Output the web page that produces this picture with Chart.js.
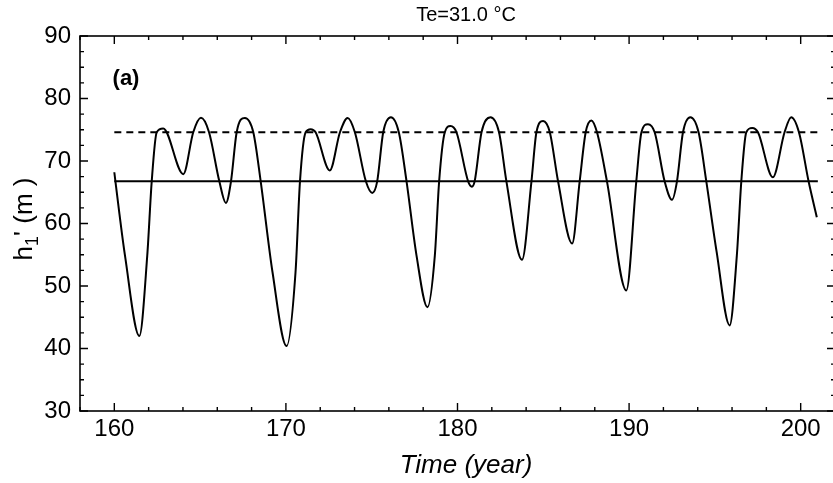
<!DOCTYPE html>
<html>
<head>
<meta charset="utf-8">
<script src="https://cdn.jsdelivr.net/npm/chart.js@4/dist/chart.umd.min.js"></script>
<style>
  html, body { margin: 0; padding: 0; background: #fff; overflow: hidden; }
  #wrap { width: 833px; height: 483px; overflow: hidden; position: relative; }
  canvas { display: block; }
</style>
</head>
<body>
<div id="wrap"><canvas id="c" width="840" height="483"></canvas></div>
<script>
// ---- data ----
const years = [160.00,160.30,160.62,161.46,161.92,162.18,162.47,162.85,164.02,164.60,165.05,165.52,166.12,166.50,166.80,167.13,167.61,168.10,168.53,169.22,170.04,170.56,170.82,171.15,171.44,171.73,172.56,173.15,173.60,174.02,174.66,175.03,175.32,175.67,176.12,176.58,177.03,177.61,178.25,178.68,178.93,179.26,179.59,179.94,180.62,180.84,181.00,181.40,181.92,182.42,182.85,183.76,184.31,184.60,184.99,185.38,185.86,186.68,187.12,187.47,187.80,188.13,188.71,189.84,190.42,190.72,191.10,191.49,192.07,192.50,192.79,193.14,193.57,194.05,194.50,195.10,195.86,196.28,196.54,196.83,197.18,197.51,198.38,199.06,199.45,199.90,200.46,200.94];
const h1 = [68.2,61.5,54.9,42.0,54.9,66.75,74.6,75.2,67.9,74.6,76.9,74.6,66.75,63.3,66.75,74.6,76.9,74.6,66.75,52.2,40.4,52.2,66.75,74.6,75.1,74.6,68.5,74.6,76.9,74.6,66.75,64.9,66.75,74.6,77.0,74.6,66.75,54.9,46.6,54.9,66.75,74.6,75.6,74.6,66.75,65.9,66.75,74.6,77.0,74.6,66.75,54.2,66.75,74.6,76.4,74.6,66.75,56.8,66.75,74.6,76.5,74.6,66.75,49.3,66.75,74.6,75.9,74.6,66.75,63.8,66.75,74.6,77.0,74.6,66.75,55.5,43.7,54.9,66.75,74.6,75.3,74.6,67.4,74.6,77.0,74.6,66.75,61.0];
const lineSpan = [160, 201];       // extent of the two horizontal reference lines
const meanLevel = 66.75;           // solid line
const upperLevel = 74.6;           // dashed line
const xRange = [158, 202];
const yRange = [30, 90];
const xMajorTicks = [160, 170, 180, 190, 200];
const yMajorTicks = [30, 40, 50, 60, 70, 80, 90];
const xMinorStep = 2;
const yMinorStep = 2.5;
const titleText = 'Te=31.0 °C';
const panelLabel = '(a)';
const xAxisTitle = 'Time (year)';

const FONT = '"Liberation Sans Narrow", "Arial Narrow", "Liberation Sans", Arial, sans-serif';

const curve = years.map((x, i) => ({ x: x, y: h1[i] }));
const meanLine = lineSpan.map(x => ({ x: x, y: meanLevel }));
const upperLine = lineSpan.map(x => ({ x: x, y: upperLevel }));

const frameTicks = {
  id: 'frameTicks',
  afterDraw(chart) {
    const ctx = chart.ctx;
    const xs = chart.scales.x, ys = chart.scales.y;
    const L = xs.getPixelForValue(xRange[0]), R = xs.getPixelForValue(xRange[1]);
    const T = ys.getPixelForValue(yRange[1]), B = ys.getPixelForValue(yRange[0]);
    ctx.save();
    ctx.strokeStyle = '#000';
    ctx.lineWidth = 1.6;
    ctx.strokeRect(L, T, R - L, B - T);
    ctx.lineWidth = 1.4;
    ctx.beginPath();
    for (let v = xRange[0]; v <= xRange[1] + 1e-9; v += xMinorStep) {
      const px = xs.getPixelForValue(v);
      const len = xMajorTicks.includes(Math.round(v)) && Math.abs(v - Math.round(v)) < 1e-6 ? 8 : 4;
      ctx.moveTo(px, B); ctx.lineTo(px, B - len);
      ctx.moveTo(px, T); ctx.lineTo(px, T + len);
    }
    for (let v = yRange[0]; v <= yRange[1] + 1e-9; v += yMinorStep) {
      const py = ys.getPixelForValue(v);
      const len = yMajorTicks.includes(v) ? 8 : 4;
      ctx.moveTo(L, py); ctx.lineTo(L + len, py);
      ctx.moveTo(R, py); ctx.lineTo(R - len, py);
    }
    ctx.stroke();

    // texts
    ctx.fillStyle = '#000';
    ctx.textAlign = 'center';
    ctx.textBaseline = 'middle';
    ctx.font = '20px ' + FONT;
    ctx.fillText(titleText, 466, 15);
    ctx.font = 'bold 22px ' + FONT;
    ctx.fillText(panelLabel, 126, 79);
    ctx.font = 'italic 26px ' + FONT;
    ctx.fillText(xAxisTitle, 466, 466);

    // y-axis title with subscript
    ctx.translate(23, 219);
    ctx.rotate(-Math.PI / 2);
    ctx.textAlign = 'left';
    ctx.textBaseline = 'alphabetic';
    const big = '26px ' + FONT, small = '18px ' + FONT;
    ctx.font = big;  const wH = ctx.measureText('h').width;
    ctx.font = small; const w1 = ctx.measureText('1').width;
    ctx.font = big;  const wRest = ctx.measureText("' (m )").width;
    const total = wH + w1 + wRest;
    let x0 = -total / 2;
    const base = 9;
    ctx.font = big; ctx.fillText('h', x0, base); x0 += wH;
    ctx.font = small; ctx.fillText('1', x0, base + 6); x0 += w1;
    ctx.font = big; ctx.fillText("' (m )", x0, base);
    ctx.restore();
  }
};

new Chart(document.getElementById('c'), {
  type: 'line',
  data: {
    datasets: [
      { label: 'h1', data: curve, borderColor: '#000', borderWidth: 2, pointRadius: 0, cubicInterpolationMode: 'monotone', fill: false },
      { label: 'mean', data: meanLine, borderColor: '#000', borderWidth: 2, pointRadius: 0, fill: false },
      { label: 'upper', data: upperLine, borderColor: '#000', borderWidth: 2, borderDash: [7, 5], pointRadius: 0, fill: false }
    ]
  },
  options: {
    responsive: false,
    animation: false,
    devicePixelRatio: 1,
    layout: { padding: { top: 36, right: 5, left: 0, bottom: 0 } },
    plugins: { legend: { display: false }, tooltip: { enabled: false }, title: { display: false } },
    scales: {
      x: {
        type: 'linear', min: xRange[0], max: xRange[1],
        afterFit(s) { s.height = 72; },
        afterBuildTicks(s) { s.ticks = xMajorTicks.map(v => ({ value: v })); },
        grid: { display: false, drawTicks: false },
        border: { display: false },
        ticks: { color: '#000', font: { family: FONT, size: 24 }, padding: 4, maxRotation: 0, autoSkip: false }
      },
      y: {
        type: 'linear', min: yRange[0], max: yRange[1],
        afterFit(s) { s.width = 80; },
        afterBuildTicks(s) { s.ticks = yMajorTicks.map(v => ({ value: v })); },
        grid: { display: false, drawTicks: false },
        border: { display: false },
        ticks: { color: '#000', font: { family: FONT, size: 24 }, padding: 9, autoSkip: false }
      }
    }
  },
  plugins: [frameTicks]
});
</script>
</body>
</html>
